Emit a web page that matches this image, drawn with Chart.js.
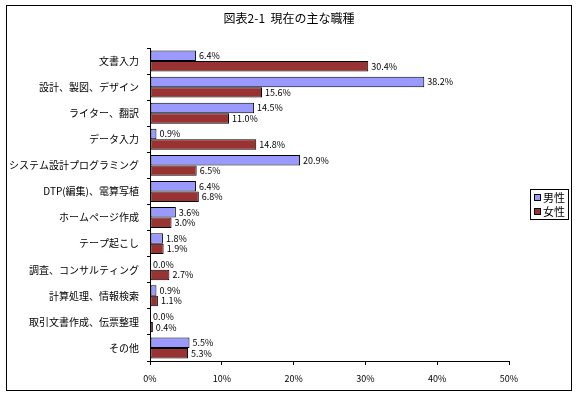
<!DOCTYPE html>
<html>
<head>
<meta charset="utf-8">
<script src="https://cdn.jsdelivr.net/npm/chart.js@4/dist/chart.umd.min.js"></script>
<style>
  html, body { margin: 0; padding: 0; background: #fff; }
  #wrap { width: 577px; height: 397px; position: relative; }
</style>
</head>
<body>
<div id="wrap"><canvas id="chart" width="577" height="397"></canvas></div>
<script>
const categories = [
  '文書入力', '設計、製図、デザイン', 'ライター、翻訳', 'データ入力',
  'システム設計プログラミング', 'DTP(編集)、電算写植', 'ホームページ作成', 'テープ起こし',
  '調査、コンサルティング', '計算処理、情報検索', '取引文書作成、伝票整理', 'その他'
];
const maleValues = [6.4, 38.2, 14.5, 0.9, 20.9, 6.4, 3.6, 1.8, 0.0, 0.9, 0.0, 5.5];
const femaleValues = [30.4, 15.6, 11.0, 14.8, 6.5, 6.8, 3.0, 1.9, 2.7, 1.1, 0.4, 5.3];
const xTicks = [0, 10, 20, 30, 40, 50];
const seriesNames = ['男性', '女性'];
const seriesColors = ['#9999ff', '#993333'];
const titleText = '図表2-1  現在の主な職種';

const FONT = "'Noto Sans CJK JP', 'Noto Sans', sans-serif";

// outer frame, title, value labels and the small legend box
const extras = {
  id: 'extras',
  beforeDraw(chart) {
    const ctx = chart.ctx;
    ctx.save();
    ctx.fillStyle = '#fff';
    ctx.fillRect(0, 0, chart.width, chart.height);
    ctx.strokeStyle = '#000';
    ctx.lineWidth = 1;
    ctx.strokeRect(6.5, 5.5, 565, 385);
    ctx.font = '12px ' + FONT;
    ctx.fillStyle = '#000';
    ctx.textAlign = 'center';
    ctx.textBaseline = 'middle';
    ctx.fillText(titleText, 289, 18);
    ctx.restore();
  },
  afterDatasetsDraw(chart) {
    const ctx = chart.ctx;
    ctx.save();
    ctx.font = '9px ' + FONT;
    ctx.fillStyle = '#000';
    ctx.textBaseline = 'middle';
    ctx.textAlign = 'left';
    chart.data.datasets.forEach((ds, i) => {
      chart.getDatasetMeta(i).data.forEach((bar, j) => {
        ctx.fillText(ds.data[j].toFixed(1) + '%', bar.x + 3, bar.y);
      });
    });

    // legend
    const lx = 530, ly = 189;
    ctx.fillStyle = '#fff';
    ctx.fillRect(lx, ly, 38, 30);
    ctx.strokeStyle = '#000';
    ctx.strokeRect(lx + 0.5, ly + 0.5, 38, 30);
    ctx.font = '11px ' + FONT;
    chart.data.datasets.forEach((ds, i) => {
      const y = ly + 8 + i * 14;
      ctx.fillStyle = ds.backgroundColor;
      ctx.fillRect(lx + 4, y - 3, 7, 7);
      ctx.strokeStyle = '#000';
      ctx.strokeRect(lx + 4.5, y - 2.5, 6, 6);
      ctx.fillStyle = '#000';
      ctx.fillText(ds.label, lx + 13, y + 1);
    });
    ctx.restore();
  }
};

new Chart(document.getElementById('chart'), {
  type: 'bar',
  data: {
    labels: categories,
    datasets: [
      { label: seriesNames[0], data: maleValues, backgroundColor: seriesColors[0] },
      { label: seriesNames[1], data: femaleValues, backgroundColor: seriesColors[1] }
    ]
  },
  options: {
    indexAxis: 'y',
    responsive: false,
    animation: false,
    devicePixelRatio: 1,
    layout: { padding: { left: 0, right: 68, top: 48, bottom: 6 } },
    datasets: {
      bar: {
        categoryPercentage: 0.8,
        barPercentage: 1,
        borderColor: '#000',
        borderWidth: 1,
        borderSkipped: false
      }
    },
    plugins: {
      legend: { display: false },
      tooltip: { enabled: false },
      title: { display: false }
    },
    scales: {
      x: {
        min: 0,
        max: 50,
        afterBuildTicks: (scale) => { scale.ticks = xTicks.map(v => ({ value: v })); },
        afterFit: (scale) => { scale.height = 30; },
        border: { color: '#000', width: 1 },
        grid: { drawOnChartArea: false, tickLength: 4, color: '#000' },
        ticks: {
          color: '#000',
          font: { family: FONT, size: 9 },
          padding: 8,
          callback: (v) => v + '%'
        }
      },
      y: {
        afterFit: (scale) => { scale.width = 150; },
        border: { color: '#000', width: 1 },
        grid: { drawOnChartArea: false, offset: true, tickLength: 3, color: '#000' },
        ticks: {
          color: '#000',
          font: { family: FONT, size: 10 },
          padding: 8,
          autoSkip: false
        }
      }
    }
  },
  plugins: [extras]
});
</script>
</body>
</html>
